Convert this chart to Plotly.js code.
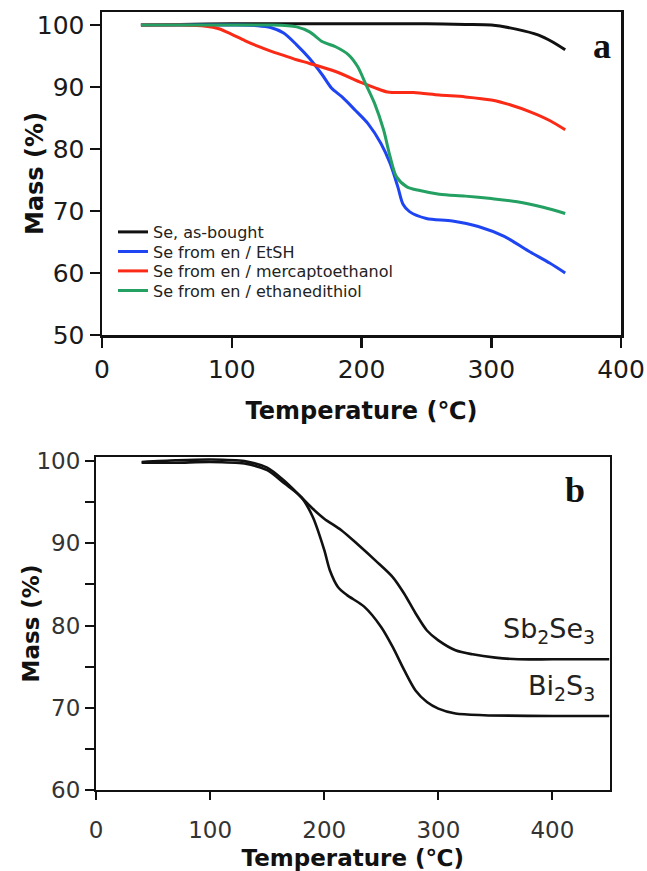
<!DOCTYPE html>
<html>
<head>
<meta charset="utf-8">
<script src="https://cdn.plot.ly/plotly-3.0.1.min.js"></script>
<style>html,body{margin:0;padding:0;background:#fff;}#chart{width:647px;height:871px;}</style>
</head>
<body>
<div id="chart"></div>
<script>
// ---------- Panel a data (Temperature °C, Mass %) ----------
const seNames = ["Se, as-bought", "Se from en / EtSH", "Se from en / mercaptoethanol", "Se from en / ethanedithiol"];
const seColors = ["#111111", "#1f45f2", "#fb2a16", "#23a062"];

const blackT = [30, 60, 100, 150, 200, 250, 280, 300, 320, 336, 347, 357];
const blackM = [100, 100.1, 100.2, 100.2, 100.2, 100.2, 100.1, 100.0, 99.3, 98.4, 97.3, 96.0];

const blueT = [30, 60, 100, 120, 130, 140, 150, 160, 170, 177, 185, 195, 205, 215, 222, 228, 232, 237, 250, 270, 290, 310, 330, 345, 357];
const blueM = [100, 100, 100, 99.9, 99.6, 98.7, 96.8, 94.6, 91.9, 89.8, 88.4, 86.3, 84.1, 80.9, 77.7, 73.9, 71.1, 69.9, 68.8, 68.4, 67.5, 65.9, 63.4, 61.6, 60.0];

const redT = [30, 60, 80, 90, 100, 110, 120, 130, 140, 150, 160, 180, 200, 210, 220, 240, 260, 280, 300, 315, 330, 345, 357];
const redM = [100, 100, 99.8, 99.4, 98.5, 97.5, 96.6, 95.8, 95.1, 94.4, 93.8, 92.5, 90.7, 89.9, 89.2, 89.1, 88.7, 88.4, 87.9, 87.1, 86.0, 84.6, 83.1];

const greenT = [30, 60, 100, 130, 150, 160, 170, 180, 190, 197, 203, 210, 217, 222, 227, 235, 245, 260, 280, 300, 320, 340, 357];
const greenM = [100, 100, 100, 100, 99.7, 98.9, 97.3, 96.5, 95.2, 93.3, 90.6, 87.4, 83.1, 78.8, 75.5, 73.9, 73.3, 72.7, 72.4, 72.0, 71.5, 70.6, 69.6];

// ---------- Panel b data ----------
const sbT = [40, 70, 100, 130, 150, 165, 180, 190, 200, 215, 230, 245, 260, 270, 280, 290, 300, 315, 330, 350, 370, 400, 450];
const sbM = [99.9, 100.1, 100.2, 100.0, 99.2, 97.6, 95.6, 94.2, 93.0, 91.6, 89.8, 87.9, 85.9, 83.9, 81.5, 79.4, 78.2, 77.0, 76.5, 76.1, 75.9, 75.9, 75.9];

const biT = [40, 70, 100, 130, 150, 165, 180, 190, 200, 205, 212, 220, 235, 250, 260, 270, 280, 290, 300, 315, 340, 400, 450];
const biM = [99.8, 99.8, 99.9, 99.7, 98.9, 97.3, 95.6, 93.2, 89.2, 86.7, 84.7, 83.7, 82.3, 79.8, 77.4, 74.6, 72.1, 70.7, 69.9, 69.3, 69.1, 69.0, 69.0];

const labelsB = ["Sb<sub>2</sub>Se<sub>3</sub>", "Bi<sub>2</sub>S<sub>3</sub>"];
const labelPosB = [{x: 439, y: 79.4}, {x: 439, y: 72.5}];

const W = 647, H = 871;
const px = (v) => v / W;
const py = (v) => 1 - v / H;

const seT = [blackT, blueT, redT, greenT];
const seM = [blackM, blueM, redM, greenM];
const legendIds = ["legend", "legend2", "legend3", "legend4"];
const legendRowsPx = [232, 251.5, 271, 290.5];

const traces = [];
for (let i = 0; i < 4; i++) {
  traces.push({
    x: seT[i], y: seM[i], name: seNames[i], type: "scatter", mode: "lines",
    line: {color: seColors[i], width: 3, shape: "spline", smoothing: 0.8},
    xaxis: "x", yaxis: "y", showlegend: true, legend: legendIds[i]
  });
}
traces.push({x: sbT, y: sbM, name: "Sb2Se3", type: "scatter", mode: "lines",
  line: {color: "#111", width: 2.6, shape: "spline", smoothing: 0.8}, xaxis: "x2", yaxis: "y2", showlegend: false});
traces.push({x: biT, y: biM, name: "Bi2S3", type: "scatter", mode: "lines",
  line: {color: "#111", width: 2.6, shape: "spline", smoothing: 0.8}, xaxis: "x2", yaxis: "y2", showlegend: false});

const axisCommon = {
  showline: true, mirror: true, linecolor: "#111", showgrid: false, zeroline: false,
  ticks: "outside", tickcolor: "#111", automargin: false
};

const layout = {
  width: W, height: H,
  margin: {l: 0, r: 0, t: 0, b: 0},
  paper_bgcolor: "#fff", plot_bgcolor: "#fff",
  showlegend: true,
  xaxis: Object.assign({}, axisCommon, {
    domain: [px(102), px(621)], anchor: "y", range: [0, 400], tickvals: [0, 100, 200, 300, 400],
    linewidth: 2.5, tickwidth: 2.5, ticklen: 10,
    tickfont: {family: "DejaVu Sans, sans-serif", size: 25, color: "#1a1a1a"},
    title: {text: "Temperature (\u2103)", font: {family: "DejaVu Sans, sans-serif", size: 24, color: "#111", weight: "bold"}}
  }),
  yaxis: Object.assign({}, axisCommon, {
    domain: [py(335), py(12)], anchor: "x", range: [50, 102.1], tickvals: [50, 60, 70, 80, 90, 100],
    linewidth: 2.5, tickwidth: 2.5, ticklen: 10,
    tickfont: {family: "DejaVu Sans, sans-serif", size: 25, color: "#1a1a1a"},
    title: {text: "Mass (%)", font: {family: "DejaVu Sans, sans-serif", size: 24, color: "#111", weight: "bold"}}
  }),
  xaxis2: Object.assign({}, axisCommon, {
    domain: [px(96), px(609.5)], anchor: "y2", range: [0, 450], tickvals: [0, 100, 200, 300, 400],
    linewidth: 2, tickwidth: 2, ticklen: 8, ticklabelstandoff: 10,
    tickfont: {family: "DejaVu Sans, sans-serif", size: 23, color: "#333"},
    title: {text: "Temperature (\u2103)", font: {family: "DejaVu Sans, sans-serif", size: 23, color: "#111", weight: "bold"}}
  }),
  yaxis2: Object.assign({}, axisCommon, {
    domain: [py(790), py(457)], anchor: "x2", range: [60, 100.5], tickvals: [60, 70, 80, 90, 100],
    linewidth: 2, tickwidth: 2, ticklen: 9,
    minor: {tickvals: [65, 75, 85, 95], ticks: "outside", ticklen: 9, tickwidth: 2, tickcolor: "#111"},
    tickfont: {family: "DejaVu Sans, sans-serif", size: 23, color: "#333"},
    title: {text: "Mass (%)", font: {family: "DejaVu Sans, sans-serif", size: 23, color: "#111", weight: "bold"}}
  }),
  annotations: [
    {text: "<b>a</b>", xref: "paper", yref: "paper", x: px(602), y: py(46), xanchor: "center", yanchor: "middle",
     showarrow: false, font: {family: "Liberation Serif, serif", size: 36, color: "#111"}},
    {text: "<b>b</b>", xref: "paper", yref: "paper", x: px(575), y: py(490), xanchor: "center", yanchor: "middle",
     showarrow: false, font: {family: "Liberation Serif, serif", size: 36, color: "#111"}},
    {text: labelsB[0], xref: "x2", yref: "y2", x: labelPosB[0].x, y: labelPosB[0].y, xanchor: "right", yanchor: "middle",
     showarrow: false, font: {family: "DejaVu Sans, sans-serif", size: 27, color: "#222"}},
    {text: labelsB[1], xref: "x2", yref: "y2", x: labelPosB[1].x, y: labelPosB[1].y, xanchor: "right", yanchor: "middle",
     showarrow: false, font: {family: "DejaVu Sans, sans-serif", size: 27, color: "#222"}}
  ]
};

for (let i = 0; i < 4; i++) {
  layout[legendIds[i]] = {
    x: px(113), y: py(legendRowsPx[i]), xanchor: "left", yanchor: "middle",
    bgcolor: "rgba(0,0,0,0)", borderwidth: 0,
    font: {family: "DejaVu Sans, sans-serif", size: 16, color: "#222"},
    itemwidth: 30
  };
}

Plotly.newPlot("chart", traces, layout, {displayModeBar: false, staticPlot: true});
</script>
</body>
</html>
